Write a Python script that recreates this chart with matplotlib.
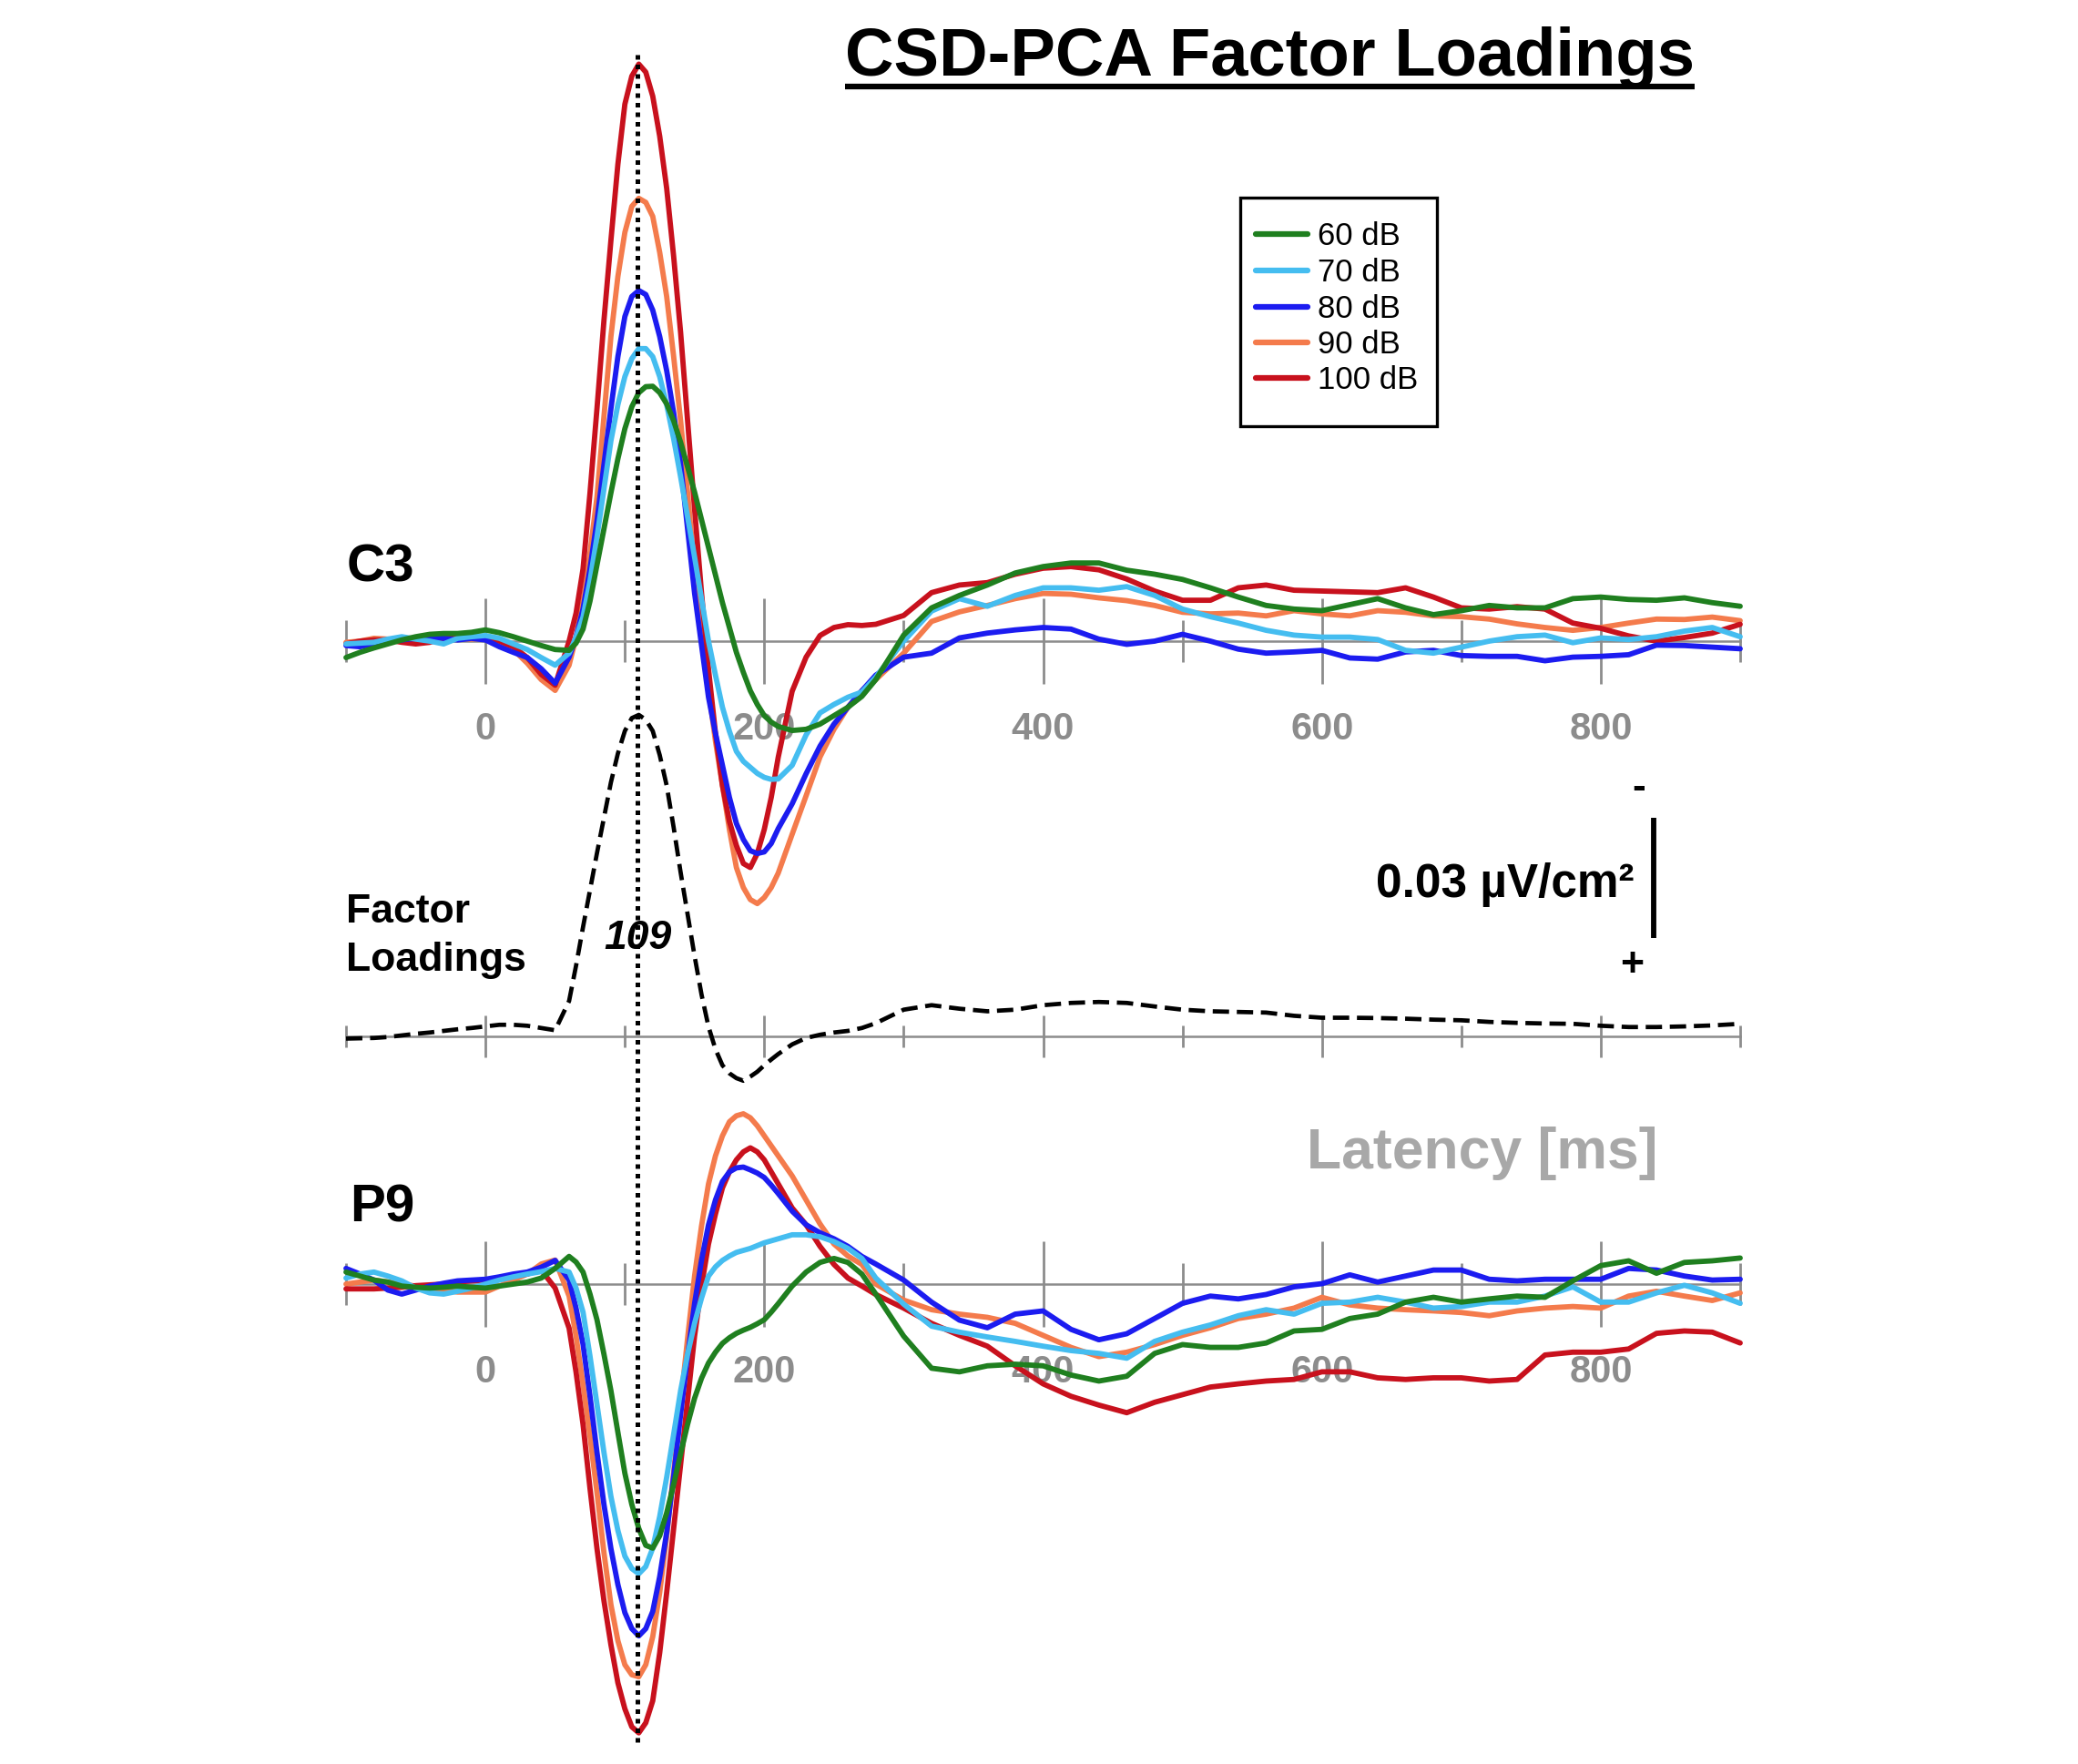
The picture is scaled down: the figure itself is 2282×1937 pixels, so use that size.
import matplotlib
matplotlib.use("Agg")
import matplotlib.pyplot as plt
import matplotlib.transforms as mtransforms
from matplotlib.lines import Line2D
from matplotlib.patches import Rectangle
from matplotlib import font_manager

# ---------------- data ----------------
TIMES = [-100, -90, -80, -70, -60, -50, -40, -30, -20, -10, 0, 10, 20, 30, 40, 50,
         60, 70, 80, 90, 100, 110, 120, 130, 140, 150, 160, 170, 180, 190, 200, 210,
         220, 230, 240, 250, 260, 270, 280, 300, 320, 340, 360, 380, 400, 420, 440,
         460, 480, 500, 520, 540, 560, 580, 600, 620, 640, 660, 680, 700, 720, 740,
         760, 780, 800, 820, 840, 860, 880, 900]
# extra samples read around the fast N1/P2 deflections
FINE_TIMES = [65, 75, 85, 95, 105, 115, 125, 135, 145, 155, 165, 175, 185, 195, 205]

LEVELS = ["60 dB", "70 dB", "80 dB", "90 dB", "100 dB"]
COLORS = ["#1f7f1f", "#45bdf0", "#1c1cf0", "#f47b4c", "#c8111d"]

# CSD amplitudes in nV/cm^2 (negative plotted upward, as in the original)
C3_60 = [4.1, 2.8, 1.7, 0.7, -0.3, -1.1, -1.7, -1.9, -1.9, -2.2, -2.8, -2.1, -1.1, 0.0, 1.1, 2.1,
         2.3, -3.0, -19.0, -37.0, -53.0, -62.0, -63.6, -59.2, -49.6, -37.2, -23.4, -9.6, 2.8, 12.4, 18.6, 21.3,
         22.3, 22.0, 20.7, 18.6, 16.5, 13.8,
         9.6, -1.5, -8.3, -11.4, -14.0, -17.0, -18.6, -19.5, -19.5, -17.7, -16.7, -15.4, -13.3, -11.0, -8.9, -8.0,
         -7.6, -9.1, -10.6, -8.3, -6.6, -7.6, -8.9, -8.3, -8.3, -10.6, -11.0, -10.4, -10.2, -10.8, -9.6, -8.7]
C3_60_FINE = [0.5, -10.0, -28.0, -45.5, -58.5, -63.5, -62.0, -55.0, -43.5, -30.3, -16.5, -3.4, 7.8, 15.8, 20.2]
C3_70 = [0.7, 0.5, 0.3, -0.5, -1.1, -0.5, 0.0, 0.7, -0.7, -1.1, -1.4, -0.7, 0.7, 2.1, 4.1, 6.0,
         3.0, -6.0, -26.0, -50.0, -66.0, -73.0, -71.0, -59.0, -41.0, -21.0, 0.0, 16.5, 27.5, 31.5, 34.0, 34.4,
         31.0, 23.4, 17.9, 15.8, 14.0, 12.7,
         9.0, 0.0, -7.5, -10.6, -8.7, -11.4, -13.3, -13.3, -12.7, -13.6, -11.4, -8.0, -6.1, -4.5, -2.7, -1.5,
         -1.0, -1.0, -0.4, 2.3, 3.0, 1.5, 0.0, -1.1, -1.5, 0.4, -0.8, -0.4, -1.1, -2.5, -3.4, -1.1]
C3_70_FINE = [-1.0, -15.0, -38.0, -59.0, -70.5, -73.0, -66.0, -50.5, -31.0, -10.5, 8.5, 22.5, 30.0, 33.0, 34.5]
C3_80 = [1.1, 1.4, 0.7, 0.0, -0.3, -0.7, -1.1, -0.7, -0.3, -0.7, -0.3, 1.4, 2.8, 4.1, 6.9, 10.5,
         4.0, -8.0, -30.0, -58.0, -81.0, -87.5, -82.6, -67.5, -44.1, -12.0, 14.0, 31.0, 45.5, 52.3, 52.6, 46.8,
         40.6, 33.1, 26.2, 20.7, 16.5, 12.4,
         8.5, 4.0, 3.0, -0.8, -2.0, -2.8, -3.4, -3.0, -0.5, 0.8, 0.0, -1.7, 0.0, 2.0, 3.0, 2.7,
         2.3, 4.2, 4.5, 2.7, 2.3, 3.6, 3.8, 3.8, 4.9, 4.0, 3.8, 3.4, 1.0, 1.1, 1.5, 1.9]
C3_80_FINE = [-1.0, -18.0, -44.0, -71.0, -86.0, -86.5, -76.0, -57.0, -28.0, 1.0, 23.0, 39.0, 49.5, 53.0, 50.5]
C3_90 = [0.3, 0.0, -0.7, -0.5, -0.3, 0.0, 0.0, -0.5, -0.7, -0.5, -0.7, 0.3, 2.1, 5.5, 9.6, 12.3,
         6.0, -10.0, -36.0, -76.0, -102.0, -110.5, -106.0, -86.0, -55.0, -18.0, 12.0, 36.0, 56.5, 64.5, 64.0, 57.9,
         48.2, 38.6, 28.9, 22.0, 16.5, 12.4,
         9.6, 3.0, -4.9, -7.3, -8.9, -10.6, -11.9, -11.7, -10.8, -10.1, -8.9, -7.2, -6.8, -7.0, -6.3, -7.6,
         -6.8, -6.3, -7.6, -7.2, -6.3, -6.1, -5.5, -4.3, -3.4, -2.7, -3.4, -4.5, -5.5, -5.4, -6.0, -5.1]
C3_90_FINE = [-1.0, -22.0, -56.0, -91.0, -108.5, -109.5, -97.0, -71.0, -37.0, -3.0, 25.0, 47.0, 61.5, 65.5, 61.5]
C3_100 = [0.7, 0.0, -0.3, -0.3, 0.3, 0.7, 0.3, -0.7, -1.1, -1.4, -1.1, 0.0, 1.4, 4.1, 8.3, 11.0,
          0.0, -18.0, -58.0, -100.0, -134.0, -144.0, -136.0, -113.0, -77.0, -33.0, 7.0, 36.0, 51.0, 56.5, 47.0, 29.0,
          12.5, 4.0, -1.4, -3.4, -4.1, -3.9,
          -4.2, -6.4, -12.1, -14.0, -14.6, -16.7, -18.2, -18.6, -17.8, -15.5, -12.5, -10.2, -10.2, -13.3, -14.0, -12.7,
          -12.5, -12.3, -12.1, -13.3, -11.0, -8.3, -8.0, -8.6, -8.0, -4.5, -3.2, -1.3, 0.0, -0.9, -2.0, -4.2]
C3_100_FINE = [-7.0, -37.0, -80.0, -119.0, -141.0, -142.0, -126.0, -96.0, -55.0, -12.0, 23.0, 45.0, 55.5, 53.0, 39.0]

P9_60 = [-3.0, -2.0, -1.0, -0.5, 0.5, 0.8, 1.0, 0.8, 0.5, 0.8, 1.0, 0.5, 0.0, -0.5, -1.5, -3.9,
         -6.9, -3.0, 8.9, 26.6, 47.2, 61.0, 65.9, 57.1, 42.3, 28.5, 19.7, 14.8, 12.3, 10.8, 8.9, 4.9,
         0.5, -3.0, -5.4, -6.4, -5.4, -2.5,
         2.5, 13.0, 21.0, 21.9, 20.4, 20.0, 20.4, 22.7, 24.2, 23.0, 17.3, 15.1, 15.8, 15.8, 14.7, 11.7,
         11.3, 8.6, 7.5, 4.5, 3.3, 4.5, 3.7, 3.0, 3.3, -0.8, -4.6, -5.8, -2.7, -5.4, -5.8, -6.5]
P9_60_FINE = [-5.5, 2.5, 17.5, 37.0, 55.0, 65.2, 62.8, 50.0, 35.0, 23.5, 17.0, 13.4, 11.5, 9.9, 7.0]
P9_70 = [-1.5, -2.5, -3.0, -2.0, -0.8, 1.0, 2.2, 2.5, 1.8, 1.0, 0.0, -1.0, -1.8, -2.5, -3.1, -3.9,
         -3.0, 7.0, 30.0, 53.0, 67.9, 72.3, 65.9, 48.2, 26.6, 9.8, -2.0, -5.9, -7.9, -8.9, -10.3, -11.3,
         -12.3, -12.3, -11.8, -10.6, -8.9, -6.4,
         -1.5, 5.0, 10.5, 12.0, 13.2, 14.3, 15.5, 16.6, 17.3, 18.5, 14.3, 12.0, 10.2, 7.9, 6.4, 7.5,
         4.8, 4.5, 3.3, 4.5, 6.0, 5.6, 4.5, 4.5, 3.0, 0.7, 4.5, 4.5, 2.2, 0.3, 2.2, 4.8]
P9_70_FINE = [1.0, 18.0, 42.0, 61.5, 71.0, 70.5, 58.0, 37.5, 17.5, 3.5, -4.3, -7.0, -8.4, -9.6, -10.8]
P9_80 = [-3.9, -2.5, -1.0, 1.5, 2.5, 1.5, 0.5, -0.2, -0.8, -1.0, -1.2, -1.8, -2.5, -3.0, -4.2, -5.9,
         -1.0, 15.0, 42.0, 66.0, 82.0, 87.8, 81.7, 62.0, 32.5, 4.9, -14.8, -25.6, -29.0, -28.5, -26.6, -22.6,
         -18.2, -14.8, -12.8, -11.3, -9.4, -6.9,
         -5.0, -1.0, 4.5, 9.0, 10.9, 7.5, 6.7, 11.3, 13.9, 12.4, 8.6, 4.8, 3.0, 3.7, 2.6, 0.7,
         -0.1, -2.3, -0.5, -2.0, -3.5, -3.5, -1.2, -0.8, -1.2, -1.2, -1.2, -3.9, -3.5, -2.0, -1.0, -1.2]
P9_80_FINE = [6.0, 28.0, 55.0, 75.0, 86.0, 86.0, 73.0, 48.0, 18.0, -6.0, -21.0, -28.0, -29.2, -27.7, -24.7]
P9_90 = [0.0, -0.5, -1.0, -0.5, 0.0, 0.5, 1.0, 1.5, 2.0, 2.0, 2.0, 0.5, -1.0, -2.5, -5.0, -6.0,
         3.0, 25.0, 52.0, 80.0, 95.0, 98.0, 88.0, 63.0, 30.0, -2.0, -25.0, -37.0, -42.0, -41.5, -37.0, -32.0,
         -27.0, -21.0, -15.0, -10.0, -7.0, -4.9,
         0.0, 4.0, 6.4, 7.5, 8.3, 9.8, 12.8, 15.8, 18.1, 17.0, 15.1, 12.8, 10.9, 8.6, 7.5, 6.0,
         3.3, 5.2, 6.0, 6.4, 6.7, 7.1, 7.9, 6.7, 6.0, 5.6, 6.0, 3.0, 1.8, 3.0, 4.1, 2.2]
P9_90_FINE = [13.0, 38.0, 67.0, 89.0, 97.5, 95.0, 77.0, 47.0, 13.5, -14.5, -32.0, -40.5, -42.5, -39.5, -34.5]
P9_100 = [1.2, 1.2, 1.2, 1.0, 0.8, 0.4, 0.2, 0.0, -0.5, -0.8, -1.0, -1.5, -2.0, -2.5, -3.5, 1.0,
          11.0, 35.0, 66.0, 90.0, 106.0, 112.0, 104.0, 77.0, 45.0, 13.0, -10.0, -24.0, -31.0, -34.0, -31.0, -25.0,
          -19.0, -14.8, -9.4, -4.9, -1.5, 0.5,
          2.6, 6.0, 9.8, 12.8, 15.5, 20.4, 24.9, 28.0, 30.2, 32.1, 29.5, 27.6, 25.7, 24.9, 24.2, 23.8,
          21.9, 21.9, 23.4, 23.8, 23.4, 23.4, 24.2, 23.8, 17.7, 17.0, 17.0, 16.2, 12.3, 11.7, 12.0, 14.7]
P9_100_FINE = [22.0, 51.0, 79.0, 99.5, 110.5, 109.5, 92.0, 61.0, 29.0, 0.5, -17.5, -28.0, -33.0, -33.0, -28.0]

# factor loadings (normalised, peak = 1)
LOADINGS = [-0.007, -0.006, -0.005, -0.002, 0.003, 0.008, 0.012, 0.017, 0.022, 0.026, 0.031, 0.036,
            0.036, 0.033, 0.026, 0.019, 0.11, 0.34, 0.57, 0.79, 0.95, 1.0, 0.95, 0.78, 0.51, 0.25,
            0.03, -0.09, -0.13, -0.125, -0.09, -0.055, -0.025, -0.005, 0.005, 0.012, 0.017, 0.026,
            0.041, 0.083, 0.097, 0.086, 0.078, 0.083, 0.097, 0.104, 0.107, 0.104, 0.093, 0.083, 0.078,
            0.076, 0.074, 0.064, 0.058, 0.058, 0.057, 0.055, 0.052, 0.050, 0.045, 0.042, 0.040, 0.039,
            0.033, 0.029, 0.029, 0.031, 0.034, 0.039]
LOADINGS_FINE = [0.22, 0.455, 0.68, 0.88, 0.99, 0.985, 0.875, 0.65, 0.38, 0.13, -0.04, -0.115, -0.138, -0.11, -0.072]

PEAK_LATENCY = 109
SCALE_NV = 30          # 0.03 uV/cm^2
XTICKS = [0, 200, 400, 600, 800]
XMINOR = [-100, 100, 300, 500, 700, 900]


def merged(coarse, fine):
    pairs = sorted(zip(TIMES + FINE_TIMES, coarse + fine))
    return [p[0] for p in pairs], [p[1] for p in pairs]


# ---------------- figure ----------------
W, H, DPI = 2282, 1937, 100
names = {f.name for f in font_manager.fontManager.ttflist}
NARROW = "Liberation Sans Narrow" if "Liberation Sans Narrow" in names else "Liberation Sans"
plt.rcParams["font.family"] = ["Liberation Sans", "DejaVu Sans"]

fig = plt.figure(figsize=(W / DPI, H / DPI), dpi=DPI)
fig.patch.set_facecolor("white")

GRAY = "#8c8c8c"
X0_PX, X1_PX = 380, 1911
PX_PER_NV = 4.4
PX_PER_LOAD = 353


def fx(px):
    return px / W


def fy(py):
    return 1 - py / H


def make_panel(base_px, top_px, bot_px, ppu, up_positive, major_len, minor_len, labels):
    ax = fig.add_axes([fx(X0_PX), fy(bot_px), (X1_PX - X0_PX) / W, (bot_px - top_px) / H])
    ax.set_xlim(-100, 900)
    if up_positive:
        ax.set_ylim((base_px - bot_px) / ppu, (base_px - top_px) / ppu)
    else:
        ax.set_ylim((bot_px - base_px) / ppu, (top_px - base_px) / ppu)
    ax.patch.set_visible(False)
    for s in ("top", "left", "right"):
        ax.spines[s].set_visible(False)
    sp = ax.spines["bottom"]
    sp.set_position(("data", 0))
    sp.set_color(GRAY)
    sp.set_linewidth(1.8)
    sp.set_zorder(0.5)
    ax.set_yticks([])
    ax.set_xticks(XTICKS)
    ax.set_xticks(XMINOR, minor=True)
    ax.tick_params(axis="x", which="major", direction="inout", length=major_len, width=2.0,
                   color=GRAY, labelsize=30, labelcolor=GRAY, pad=22, labelbottom=labels)
    ax.tick_params(axis="x", which="minor", direction="inout", length=minor_len, width=2.0,
                   color=GRAY, labelbottom=False)
    ax.xaxis.set_zorder(0.5)
    if labels:
        for lab in ax.get_xticklabels():
            lab.set_fontweight("bold")
    return ax


ax_c3 = make_panel(704, 40, 1100, PX_PER_NV, False, 67, 33, True)
ax_f = make_panel(1138, 760, 1200, PX_PER_LOAD, True, 33, 17, False)
ax_p9 = make_panel(1410, 1150, 1935, PX_PER_NV, False, 67, 33, True)

ORDER = [3, 4, 2, 1, 0]
C3_SERIES = [(C3_60, C3_60_FINE), (C3_70, C3_70_FINE), (C3_80, C3_80_FINE),
             (C3_90, C3_90_FINE), (C3_100, C3_100_FINE)]
P9_SERIES = [(P9_60, P9_60_FINE), (P9_70, P9_70_FINE), (P9_80, P9_80_FINE),
             (P9_90, P9_90_FINE), (P9_100, P9_100_FINE)]
for ax, series in ((ax_c3, C3_SERIES), (ax_p9, P9_SERIES)):
    for i in ORDER:
        t, v = merged(*series[i])
        ax.plot(t, v, color=COLORS[i], lw=4.2, solid_joinstyle="round",
                solid_capstyle="round", zorder=3, clip_on=False)

t, v = merged(LOADINGS, LOADINGS_FINE)
ax_f.plot(t, v, color="black", lw=3.4, linestyle=(0, (3.8, 1.8)), zorder=3)

# vertical dotted line at the factor peak latency
blend_x = mtransforms.blended_transform_factory(ax_c3.transData, fig.transFigure)
fig.add_artist(Line2D([PEAK_LATENCY, PEAK_LATENCY], [fy(60), fy(1918)], transform=blend_x,
                      color="black", lw=3.6, linestyle=(0, (1.0, 1.1)),
                      dash_capstyle="butt", zorder=5))
fig.text(PEAK_LATENCY, fy(1042), str(PEAK_LATENCY), transform=blend_x, ha="center",
         va="baseline", fontsize=32, fontweight="bold", fontstyle="italic", zorder=6)

# channel labels
fig.text(fx(381), fy(638), "C3", fontsize=42, fontweight="bold", va="baseline")
fig.text(fx(384), fy(1341), "P9", fontsize=42, fontweight="bold", va="baseline")
fig.text(fx(380), fy(1013), "Factor", fontsize=32, fontweight="bold", va="baseline")
fig.text(fx(380), fy(1066), "Loadings", fontsize=32, fontweight="bold", va="baseline")
fig.text(fx(1435), fy(1283), "Latency [ms]", fontsize=45, fontweight="bold",
         color="#a8a8a8", va="baseline")

# amplitude scale bar (in C3 data units)
blend_y = mtransforms.blended_transform_factory(fig.transFigure, ax_c3.transData)
bar_start = (898 - 704) / PX_PER_NV
fig.add_artist(Line2D([fx(1816), fx(1816)], [bar_start, bar_start + SCALE_NV],
                      transform=blend_y, color="black", lw=4.2, solid_capstyle="butt"))
fig.text(fx(1795), fy(985), "0.03 µV/cm²", ha="right", va="baseline", fontsize=37,
         fontweight="bold")
fig.text(fx(1800), fy(866), "-", ha="center", va="center", fontsize=32, fontweight="bold")
fig.text(fx(1792), fy(1060), "+", ha="center", va="center", fontsize=32, fontweight="bold")

# title with underline
title = fig.text(fx(1394), fy(83), "CSD-PCA Factor Loadings", ha="center", va="baseline",
                 fontsize=53.5, fontweight="bold")
fig.canvas.draw()
bb = title.get_window_extent()
fig.add_artist(Line2D([bb.x0 / W, bb.x1 / W], [fy(95), fy(95)], transform=fig.transFigure,
                      color="black", lw=4.5, solid_capstyle="butt"))

# legend
fig.add_artist(Rectangle((fx(1362), fy(468)), (1578 - 1362) / W, (468 - 217) / H,
                         transform=fig.transFigure, fill=False, edgecolor="black", lw=2.4))
ROW_Y = [257, 297, 337, 376, 415]
for i, (lab, col) in enumerate(zip(LEVELS, COLORS)):
    fig.add_artist(Line2D([fx(1379), fx(1436)], [fy(ROW_Y[i]), fy(ROW_Y[i])],
                          transform=fig.transFigure, color=col, lw=4.5, solid_capstyle="round"))
    fig.text(fx(1447), fy(ROW_Y[i] + 12), lab, fontsize=25, family=NARROW, va="baseline")

fig.savefig("out.png", dpi=DPI, facecolor="white")
